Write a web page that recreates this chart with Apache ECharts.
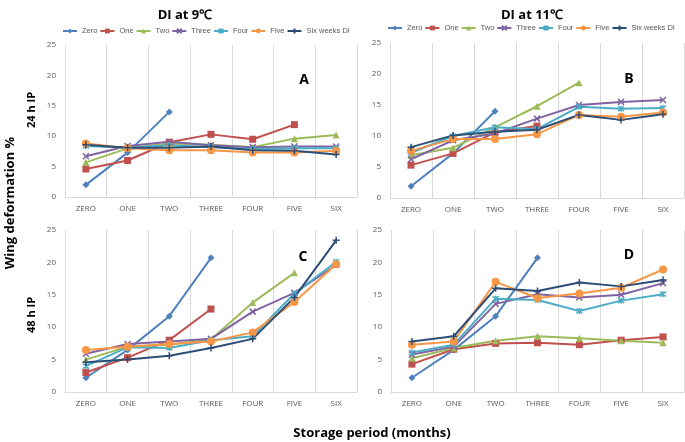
<!DOCTYPE html>
<html>
<head>
<meta charset="utf-8">
<script src="https://cdn.jsdelivr.net/npm/echarts@6/dist/echarts.min.js"></script>
<style>html,body{margin:0;padding:0;background:#fff}#c{width:685px;height:442px}</style>
</head>
<body>
<div id="c"></div>
<script>
const categories = ['ZERO','ONE','TWO','THREE','FOUR','FIVE','SIX'];
const seriesNames = ['Zero','One','Two','Three','Four','Five','Six weeks DI'];
const yTicks = [0, 5, 10, 15, 20, 25];

// Panel A: DI at 9°C, 24 h IP
const aZero  = [2.0, 7.3, 14.0, null, null, null, null];
const aOne   = [4.6, 6.0, 9.0, 10.3, 9.5, 11.9, null];
const aTwo   = [5.7, 8.0, 8.8, 8.6, 8.2, 9.6, 10.2];
const aThree = [6.7, 8.4, 9.1, 8.5, 8.2, 8.3, 8.3];
const aFour  = [8.4, 8.1, 8.5, 8.2, 7.9, 8.0, 8.0];
const aFive  = [8.8, 8.0, 7.7, 7.7, 7.3, 7.3, 7.6];
const aSix   = [8.6, 8.1, 8.1, 8.3, 7.7, 7.6, 7.0];

// Panel B: DI at 11°C, 24 h IP
const bZero  = [1.9, 7.2, 14.0, null, null, null, null];
const bOne   = [5.3, 7.2, 10.6, 11.6, null, null, null];
const bTwo   = [6.9, 8.1, 11.4, 14.8, 18.6, null, null];
const bThree = [6.25, 9.3, 10.4, 12.8, 15.0, 15.5, 15.8];
const bFour  = [7.3, 10.0, 11.4, 11.1, 14.7, 14.4, 14.5];
const bFive  = [7.6, 9.5, 9.5, 10.3, 13.4, 13.1, 13.8];
const bSix   = [8.2, 10.1, 10.7, 11.0, 13.4, 12.6, 13.5];

// Panel C: DI at 9°C, 48 h IP
const cZero  = [2.2, 6.5, 11.7, 20.7, null, null, null];
const cOne   = [3.0, 5.3, 8.0, 12.8, null, null, null];
const cTwo   = [5.0, 7.0, 7.3, 8.1, 13.8, 18.4, null];
const cThree = [5.9, 7.4, 7.8, 8.2, 12.4, 15.3, 19.6];
const cFour  = [4.0, 6.9, 6.8, 8.0, 8.6, 15.2, 20.1];
const cFive  = [6.5, 7.0, 7.4, 7.8, 9.2, 13.9, 19.7];
const cSix   = [4.6, 5.0, 5.6, 6.8, 8.2, 14.6, 23.4];

// Panel D: DI at 11°C, 48 h IP
const dZero  = [2.2, 6.5, 11.7, 20.7, null, null, null];
const dOne   = [4.3, 6.6, 7.5, 7.6, 7.3, 8.0, 8.5];
const dTwo   = [5.2, 6.8, 7.9, 8.6, 8.3, 7.9, 7.6];
const dThree = [5.8, 7.0, 13.6, 15.1, 14.6, 15.0, 16.8];
const dFour  = [6.1, 7.3, 14.4, 14.2, 12.5, 14.1, 15.1];
const dFive  = [7.3, 7.8, 17.0, 14.5, 15.2, 16.1, 18.9];
const dSix   = [7.8, 8.6, 16.0, 15.6, 16.9, 16.3, 17.3];

const panels = [
  [aZero, aOne, aTwo, aThree, aFour, aFive, aSix],
  [bZero, bOne, bTwo, bThree, bFour, bFive, bSix],
  [cZero, cOne, cTwo, cThree, cFour, cFive, cSix],
  [dZero, dOne, dTwo, dThree, dFour, dFive, dSix]
];

const colors = ['#4F81BD','#C0504D','#9BBB59','#8064A2','#4BACC6','#F79646','#2C4D75'];
const symbols = [
  'diamond', 'rect', 'triangle',
  'path://M0,0L10,10M10,0L0,10',
  'path://M0,0L10,10M10,0L0,10M5,-1L5,11',
  'circle',
  'path://M5,0L5,10M0,5L10,5'
];
const symbolSizes = [7, 7, 7, 6, 6, 8, 7];

const FONT = '"Open Sans", "Liberation Sans", sans-serif';
const NARROW = '"Liberation Sans", Arial, sans-serif';
const grids = [
  {left: 65, top: 45, width: 292, height: 152},
  {left: 390, top: 43, width: 294, height: 155},
  {left: 65, top: 230, width: 292, height: 162},
  {left: 391, top: 230, width: 293, height: 162}
];

const xAxes = grids.map((g, i) => ({
  type: 'category', gridIndex: i, data: categories, boundaryGap: true,
  axisLine: {lineStyle: {color: '#D9D9D9'}},
  axisTick: {show: false},
  splitLine: {show: true, lineStyle: {color: '#D9D9D9'}},
  axisLabel: {color: '#595959', fontSize: 8, fontFamily: FONT, margin: 8, interval: 0}
}));
const yAxes = grids.map((g, i) => ({
  type: 'value', gridIndex: i, min: yTicks[0], max: yTicks[yTicks.length - 1], interval: 5,
  axisLine: {show: false}, axisTick: {show: false},
  splitLine: {show: false},
  axisLabel: {color: '#595959', fontSize: 8, fontFamily: FONT, margin: 9}
}));

const series = [];
panels.forEach((arrs, p) => {
  arrs.forEach((vals, k) => {
    const isPath = symbols[k].startsWith('path://');
    series.push({
      name: seriesNames[k], type: 'line', xAxisIndex: p, yAxisIndex: p,
      data: vals, connectNulls: false,
      symbol: symbols[k], symbolSize: symbolSizes[k], showAllSymbol: true,
      lineStyle: {color: colors[k], width: 2},
      itemStyle: isPath ? {color: colors[k], borderColor: colors[k], borderWidth: 1.5}
                        : {color: colors[k]},
      emphasis: {disabled: true},
      animation: false
    });
  });
});

const legendCommon = {
  data: seriesNames, orient: 'horizontal', itemWidth: 14, itemHeight: 6, itemGap: 2,
  width: 330, padding: 0,
  textStyle: {color: '#595959', fontSize: 7.5, fontFamily: NARROW},
  selectedMode: false
};

const txt = (x, y, text, size, rot, weight, color) => ({
  type: 'text', x: x, y: y, rotation: rot ? Math.PI / 2 : 0,
  style: {text: text, font: (weight || 'bold') + ' ' + size + 'px ' + FONT,
          fill: color || '#000', align: 'center', verticalAlign: 'middle'}
});

const option = {
  animation: false,
  grid: grids,
  xAxis: xAxes,
  yAxis: yAxes,
  legend: [
    Object.assign({left: 62, top: 27}, legendCommon),
    Object.assign({left: 387, top: 24}, legendCommon)
  ],
  series: series,
  graphic: [
    txt(185, 15, 'DI at 9℃', 13),
    txt(532, 15, 'DI at 11℃', 13),
    txt(10, 203, 'Wing deformation %', 13, true),
    txt(32, 110, '24 h IP', 11, true),
    txt(32, 315, '48 h IP', 11, true),
    txt(372, 433, 'Storage period (months)', 13),
    txt(304, 80, 'A', 14),
    txt(629, 79, 'B', 14),
    txt(303, 257, 'C', 14),
    txt(629, 255, 'D', 14)
  ]
};

const chart = echarts.init(document.getElementById('c'), null, {renderer: 'canvas'});
chart.setOption(option);
</script>
</body>
</html>
